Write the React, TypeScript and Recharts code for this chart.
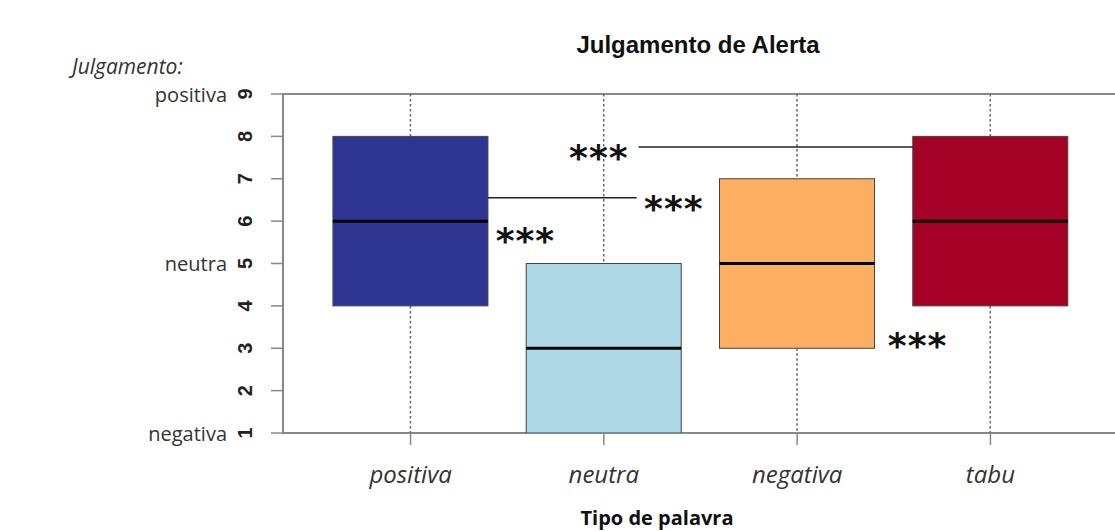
import React from "react";
import {
  ComposedChart,
  Bar,
  XAxis,
  YAxis,
  ReferenceArea,
  ReferenceLine,
  ReferenceDot,
} from "recharts";

// categories (x positions 1..4)
const categories = ["positiva", "neutra", "negativa", "tabu"];
const positions = [1, 2, 3, 4];

// box plot stats per category
const whiskerLow = [1, 1, 1, 1];
const q1 = [4, 1, 3, 4];
const median = [6, 3, 5, 6];
const q3 = [8, 5, 7, 8];
const whiskerHigh = [9, 9, 9, 9];
const boxColors = ["#2E3592", "#ADD8E6", "#FDAE61", "#A50026"];

// y axis ticks and their word labels
const yTicks = [1, 2, 3, 4, 5, 6, 7, 8, 9];
const yWords: Record<number, string> = { 9: "positiva", 5: "neutra", 1: "negativa" };

// significance brackets: [x1, x2, y]
const sigLines = [
  [1.4, 2.17, 6.55],
  [2.18, 3.6, 7.75],
];
// "***" marks: [x, y]
const sigStars = [
  [1.594, 5.75],
  [2.362, 6.5],
  [1.974, 7.7],
  [3.623, 3.27],
];

const data = positions.map((pos, i) => ({
  pos,
  range: [whiskerLow[i], whiskerHigh[i]],
  q1: q1[i],
  med: median[i],
  q3: q3[i],
  color: boxColors[i],
}));

const BoxShape = (props: any) => {
  const { x, y, width, height, payload } = props;
  const [lo, hi] = payload.range;
  const top = Math.min(y, y + height);
  const h = Math.abs(height);
  const py = (v: number) => top + ((hi - v) / (hi - lo)) * h;
  const cx = x + width / 2;
  return (
    <g>
      <line x1={cx} x2={cx} y1={py(hi)} y2={py(payload.q3)} stroke="#666" strokeWidth={1.5} strokeDasharray="2.5 2.5" />
      <line x1={cx} x2={cx} y1={py(payload.q1)} y2={py(lo)} stroke="#666" strokeWidth={1.5} strokeDasharray="2.5 2.5" />
      <rect
        x={x}
        y={py(payload.q3)}
        width={width}
        height={py(payload.q1) - py(payload.q3)}
        fill={payload.color}
        stroke="#444"
        strokeWidth={1}
      />
      <line x1={x} x2={x + width} y1={py(payload.med)} y2={py(payload.med)} stroke="#000" strokeWidth={3} />
    </g>
  );
};

const YTick = (props: any) => {
  const { x, y, payload } = props;
  const word = yWords[payload.value];
  return (
    <g>
      <text
        x={x - 26}
        y={y}
        transform={`rotate(-90, ${x - 26}, ${y})`}
        textAnchor="middle"
        dominantBaseline="central"
        fontFamily="Liberation Sans"
        fontWeight="bold"
        fontSize={20}
        fill="#222"
      >
        {payload.value}
      </text>
      {word && (
        <text
          x={x - 44}
          y={y}
          textAnchor="end"
          dominantBaseline="central"
          fontFamily="Open Sans"
          fontSize={20}
          fill="#333"
        >
          {word}
        </text>
      )}
    </g>
  );
};

const XTick = (props: any) => {
  const { x, y, payload } = props;
  return (
    <text
      x={x}
      y={y + 28}
      textAnchor="middle"
      dominantBaseline="central"
      fontFamily="Open Sans"
      fontStyle="italic"
      fontSize={24}
      fill="#333"
    >
      {categories[payload.value - 1]}
    </text>
  );
};

const Stars = (props: any) => (
  <text
    x={props.cx}
    y={props.cy + 21}
    textAnchor="middle"
    fontFamily="DejaVu Sans"
    fontWeight="bold"
    fontSize={36}
    letterSpacing={1}
    fill="#111"
  >
    ***
  </text>
);

export default function App() {
  return (
    <div
      style={{
        position: "absolute",
        left: 0,
        top: 0,
        width: 1115,
        height: 531,
        overflow: "hidden",
        background: "#fff",
      }}
    >
      <div
        style={{
          position: "absolute",
          left: 698,
          top: 45,
          transform: "translate(-50%, -50%)",
          fontFamily: "Liberation Sans",
          fontWeight: "bold",
          fontSize: 24,
          whiteSpace: "nowrap",
          color: "#111",
        }}
      >
        Julgamento de Alerta
      </div>
      <div
        style={{
          position: "absolute",
          left: 72,
          top: 66,
          transform: "translate(0, -50%)",
          fontFamily: "Open Sans",
          fontStyle: "italic",
          fontSize: 21,
          whiteSpace: "nowrap",
          color: "#333",
        }}
      >
        Julgamento:
      </div>
      <div
        style={{
          position: "absolute",
          left: 657,
          top: 517,
          transform: "translate(-50%, -50%)",
          fontFamily: "Open Sans",
          fontWeight: "bold",
          fontSize: 20,
          whiteSpace: "nowrap",
          color: "#111",
        }}
      >
        Tipo de palavra
      </div>
      <ComposedChart
        width={1130}
        height={531}
        data={data}
        margin={{ top: 94, right: 12, bottom: 48, left: 223 }}
      >
        <XAxis
          dataKey="pos"
          type="number"
          domain={[0.34, 4.66]}
          ticks={positions}
          allowDataOverflow
          axisLine={false}
          tickSize={12}
          tickMargin={0}
          tickLine={{ stroke: "#888", strokeWidth: 1.5 }}
          tick={<XTick />}
          height={50}
        />
        <YAxis
          type="number"
          domain={[1, 9]}
          ticks={yTicks}
          allowDataOverflow
          axisLine={false}
          tickSize={12}
          tickMargin={0}
          tickLine={{ stroke: "#888", strokeWidth: 1.5 }}
          tick={<YTick />}
          width={60}
        />
        <ReferenceArea x1={0.34} x2={4.66} y1={1} y2={9} fill="none" stroke="#888" strokeWidth={2} />
        <Bar dataKey="range" barSize={155} shape={<BoxShape />} isAnimationActive={false} />
        {sigLines.map(([x1, x2, y], i) => (
          <ReferenceLine
            key={`sig-${i}`}
            segment={[
              { x: x1, y },
              { x: x2, y },
            ]}
            stroke="#222"
            strokeWidth={1.5}
          />
        ))}
        {sigStars.map(([x, y], i) => (
          <ReferenceDot key={`star-${i}`} x={x} y={y} r={0} shape={<Stars />} />
        ))}
      </ComposedChart>
    </div>
  );
}
